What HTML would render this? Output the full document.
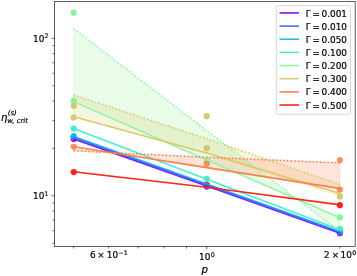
<!DOCTYPE html>
<html><head><meta charset="utf-8"><title>plot</title>
<style>html,body{margin:0;padding:0;background:#fff;overflow:hidden}body{width:357px;height:276px;position:relative}</style></head>
<body>
<svg width="357" height="276" viewBox="0 0 357 276" style="display:block;position:absolute;left:0;top:0">
<rect x="0" y="0" width="357" height="276" fill="#fff"/>
<clipPath id="c"><rect x="54.5" y="1.5" width="300.7" height="245.0"/></clipPath>
<g clip-path="url(#c)">
<circle cx="73.7" cy="138.9" r="3.1" fill="#8000ff" fill-opacity="0.95"/>
<circle cx="206.75" cy="186.6" r="3.1" fill="#8000ff" fill-opacity="0.95"/>
<circle cx="339.9" cy="233.2" r="3.1" fill="#8000ff" fill-opacity="0.95"/>
<circle cx="73.7" cy="137.6" r="3.1" fill="#3a68fa" fill-opacity="0.95"/>
<circle cx="206.75" cy="186.0" r="3.1" fill="#3a68fa" fill-opacity="0.95"/>
<circle cx="339.9" cy="232.4" r="3.1" fill="#3a68fa" fill-opacity="0.95"/>
<circle cx="73.7" cy="136.2" r="3.1" fill="#0cbbe9" fill-opacity="0.95"/>
<circle cx="206.75" cy="185.2" r="3.1" fill="#0cbbe9" fill-opacity="0.95"/>
<circle cx="339.9" cy="231.4" r="3.1" fill="#0cbbe9" fill-opacity="0.95"/>
<circle cx="73.7" cy="128.6" r="3.1" fill="#40ecd0" fill-opacity="0.95"/>
<circle cx="206.75" cy="178.8" r="3.1" fill="#40ecd0" fill-opacity="0.95"/>
<circle cx="339.9" cy="228.8" r="3.1" fill="#40ecd0" fill-opacity="0.95"/>
<circle cx="73.7" cy="12.7" r="3.1" fill="#7cf59a" fill-opacity="0.95"/>
<circle cx="73.7" cy="100.9" r="3.1" fill="#7cf59a" fill-opacity="0.95"/>
<circle cx="206.75" cy="161.0" r="3.1" fill="#7cf59a" fill-opacity="0.95"/>
<circle cx="339.9" cy="217.4" r="3.1" fill="#7cf59a" fill-opacity="0.95"/>
<polygon points="73.7,28.7 206.75,130.6 339.9,231.4 339.9,217.7 206.75,160.1 73.7,101.7" fill="#8cf08c" fill-opacity="0.2" stroke="#8cf08c" stroke-opacity="0.30000000000000004" stroke-width="0.7"/>
<circle cx="73.7" cy="105.9" r="3.1" fill="#d3c664" fill-opacity="0.95"/>
<circle cx="73.7" cy="117.5" r="3.1" fill="#d3c664" fill-opacity="0.95"/>
<circle cx="206.75" cy="116.2" r="3.1" fill="#d3c664" fill-opacity="0.95"/>
<circle cx="206.75" cy="148.2" r="3.1" fill="#d3c664" fill-opacity="0.95"/>
<circle cx="339.9" cy="196.4" r="3.1" fill="#d3c664" fill-opacity="0.95"/>
<polygon points="73.7,95.0 206.75,138.8 339.9,184.6 339.9,196.0 206.75,153.6 73.7,116.8" fill="#d8c862" fill-opacity="0.2" stroke="#d8c862" stroke-opacity="0.30000000000000004" stroke-width="0.7"/>
<circle cx="73.7" cy="146.6" r="3.1" fill="#ff8a58" fill-opacity="0.95"/>
<circle cx="206.75" cy="163.8" r="3.1" fill="#ff8a58" fill-opacity="0.95"/>
<circle cx="339.9" cy="160.0" r="3.1" fill="#ff8a58" fill-opacity="0.95"/>
<circle cx="339.9" cy="189.6" r="3.1" fill="#ff8a58" fill-opacity="0.95"/>
<polygon points="73.7,150.8 206.75,157.3 339.9,162.9 339.9,188.5 206.75,167.6 73.7,146.7" fill="#ff7a45" fill-opacity="0.2" stroke="#ff7a45" stroke-opacity="0.30000000000000004" stroke-width="0.7"/>
<circle cx="73.7" cy="172.1" r="3.1" fill="#ff1a10" fill-opacity="0.95"/>
<circle cx="206.75" cy="184.8" r="3.1" fill="#ff1a10" fill-opacity="0.95"/>
<circle cx="339.9" cy="205.2" r="3.1" fill="#ff1a10" fill-opacity="0.95"/>
<polyline points="73.7,138.9 206.75,186.1 339.9,233.3" fill="none" stroke="#8000ff" stroke-opacity="0.95" stroke-width="1.6" stroke-linecap="square" stroke-linejoin="round"/>
<polyline points="73.7,136.5 206.75,184.1 339.9,231.5" fill="none" stroke="#0cbbe9" stroke-opacity="0.95" stroke-width="1.6" stroke-linecap="square" stroke-linejoin="round"/>
<polyline points="73.7,137.7 206.75,185.1 339.9,232.4" fill="none" stroke="#3a68fa" stroke-opacity="0.95" stroke-width="1.6" stroke-linecap="square" stroke-linejoin="round"/>
<polyline points="73.7,128.6 206.75,179.2 339.9,229.6" fill="none" stroke="#40ecd0" stroke-opacity="0.95" stroke-width="1.6" stroke-linecap="square" stroke-linejoin="round"/>
<polyline points="73.7,101.7 206.75,160.1 339.9,217.7" fill="none" stroke="#8cf7a4" stroke-opacity="0.95" stroke-width="1.6" stroke-linecap="square" stroke-linejoin="round"/>
<polyline points="73.7,28.7 206.75,130.6 339.9,231.4" fill="none" stroke="#8cf7a4" stroke-opacity="0.95" stroke-width="1.6" stroke-dasharray="1.44 2.24"/>
<polyline points="73.7,116.8 206.75,153.0 339.9,193.6" fill="none" stroke="#d8c862" stroke-opacity="0.95" stroke-width="1.6" stroke-linecap="square" stroke-linejoin="round"/>
<polyline points="73.7,95.0 206.75,138.8 339.9,184.6" fill="none" stroke="#d8c862" stroke-opacity="0.95" stroke-width="1.6" stroke-dasharray="1.44 2.24"/>
<polyline points="73.7,146.7 206.75,167.6 339.9,188.5" fill="none" stroke="#ff7a45" stroke-opacity="0.95" stroke-width="1.6" stroke-linecap="square" stroke-linejoin="round"/>
<polyline points="73.7,150.8 206.75,157.3 339.9,162.9" fill="none" stroke="#ff7a45" stroke-opacity="0.95" stroke-width="1.6" stroke-dasharray="1.44 2.24"/>
<polyline points="73.7,171.8 206.75,187.2 339.9,204.8" fill="none" stroke="#ff1a10" stroke-opacity="0.95" stroke-width="1.6" stroke-linecap="square" stroke-linejoin="round"/>
</g>
<rect x="54.5" y="1.5" width="300.7" height="245.0" fill="none" stroke="#404040" stroke-width="0.85"/>
<path d="M54.5 195.80h-2.9 M54.5 38.40h-2.9 M54.5 243.18h-2.0 M54.5 230.72h-2.0 M54.5 220.18h-2.0 M54.5 211.05h-2.0 M54.5 203.00h-2.0 M54.5 148.42h-2.0 M54.5 120.70h-2.0 M54.5 101.04h-2.0 M54.5 85.78h-2.0 M54.5 73.32h-2.0 M54.5 62.78h-2.0 M54.5 53.65h-2.0 M54.5 45.60h-2.0 M206.75 246.5v2.9 M73.60 246.5v2.0 M108.62 246.5v2.0 M138.23 246.5v2.0 M163.89 246.5v2.0 M186.51 246.5v2.0 M339.90 246.5v2.0" stroke="#404040" stroke-width="0.8" fill="none"/>
<text font-family="DejaVu Sans, Liberation Sans, sans-serif" fill="#000" stroke="#000" stroke-width="0.2" ><tspan x="33.0" y="41.80" font-size="8.9">10</tspan><tspan x="44.6" y="38.40" font-size="6.3">2</tspan></text>
<text font-family="DejaVu Sans, Liberation Sans, sans-serif" fill="#000" stroke="#000" stroke-width="0.2" ><tspan x="33.0" y="199.20" font-size="8.9">10</tspan><tspan x="44.6" y="195.80" font-size="6.3">1</tspan></text>
<text font-family="DejaVu Sans, Liberation Sans, sans-serif" fill="#000" stroke="#000" stroke-width="0.2" ><tspan x="199.0" y="259.90" font-size="8.9">10</tspan><tspan x="210.8" y="256.50" font-size="6.3">0</tspan></text>
<text font-family="DejaVu Sans, Liberation Sans, sans-serif" fill="#000" stroke="#000" stroke-width="0.2" ><tspan x="90.0" y="258.10" font-size="8.9">6</tspan><tspan x="97.3" y="258.10" font-size="8.9">×</tspan><tspan x="106.8" y="258.10" font-size="8.9">10</tspan><tspan x="118.4" y="254.70" font-size="6.3">−1</tspan></text>
<text font-family="DejaVu Sans, Liberation Sans, sans-serif" fill="#000" stroke="#000" stroke-width="0.2" ><tspan x="324.1" y="258.10" font-size="8.9">2</tspan><tspan x="331.7" y="258.10" font-size="8.9">×</tspan><tspan x="340.6" y="258.10" font-size="8.9">10</tspan><tspan x="352.2" y="254.70" font-size="6.3">0</tspan></text>
<text x="204.75" y="272.5" font-family="DejaVu Sans, Liberation Sans, sans-serif" font-size="10.2" font-style="italic" text-anchor="middle" fill="#000" stroke="#000" stroke-width="0.2">p</text>
<text x="1.0" y="120.7" font-family="DejaVu Sans, Liberation Sans, sans-serif" font-size="10" font-style="italic" fill="#000" stroke="#000" stroke-width="0.2">η<tspan font-size="6.9" dy="-6" dx="0.4">(s)</tspan></text>
<text x="7.2" y="123.1" font-family="DejaVu Sans, Liberation Sans, sans-serif" font-size="6.85" font-style="italic" fill="#000" stroke="#000" stroke-width="0.2">w, crit</text>
<rect x="276.3" y="5.7" width="74.2" height="108.5" rx="1.6" ry="1.6" fill="#fff" fill-opacity="0.8" stroke="#ccc" stroke-width="0.8"/>
<line x1="279.5" y1="12.95" x2="299.0" y2="12.95" stroke="#8000ff" stroke-opacity="0.95" stroke-width="1.6"/>
<text font-family="DejaVu Sans, Liberation Sans, sans-serif" fill="#000" stroke="#000" stroke-width="0.2" ><tspan x="305.8" y="16.55" font-size="8.9">Γ</tspan><tspan x="312.6" y="16.55" font-size="8.9">=</tspan><tspan x="321.6" y="16.55" font-size="8.9">0.001</tspan></text>
<line x1="279.5" y1="26.10" x2="299.0" y2="26.10" stroke="#3a68fa" stroke-opacity="0.95" stroke-width="1.6"/>
<text font-family="DejaVu Sans, Liberation Sans, sans-serif" fill="#000" stroke="#000" stroke-width="0.2" ><tspan x="305.8" y="29.70" font-size="8.9">Γ</tspan><tspan x="312.6" y="29.70" font-size="8.9">=</tspan><tspan x="321.6" y="29.70" font-size="8.9">0.010</tspan></text>
<line x1="279.5" y1="39.25" x2="299.0" y2="39.25" stroke="#0cbbe9" stroke-opacity="0.95" stroke-width="1.6"/>
<text font-family="DejaVu Sans, Liberation Sans, sans-serif" fill="#000" stroke="#000" stroke-width="0.2" ><tspan x="305.8" y="42.85" font-size="8.9">Γ</tspan><tspan x="312.6" y="42.85" font-size="8.9">=</tspan><tspan x="321.6" y="42.85" font-size="8.9">0.050</tspan></text>
<line x1="279.5" y1="52.40" x2="299.0" y2="52.40" stroke="#40ecd0" stroke-opacity="0.95" stroke-width="1.6"/>
<text font-family="DejaVu Sans, Liberation Sans, sans-serif" fill="#000" stroke="#000" stroke-width="0.2" ><tspan x="305.8" y="56.00" font-size="8.9">Γ</tspan><tspan x="312.6" y="56.00" font-size="8.9">=</tspan><tspan x="321.6" y="56.00" font-size="8.9">0.100</tspan></text>
<line x1="279.5" y1="65.55" x2="299.0" y2="65.55" stroke="#8cf7a4" stroke-opacity="0.95" stroke-width="1.6"/>
<text font-family="DejaVu Sans, Liberation Sans, sans-serif" fill="#000" stroke="#000" stroke-width="0.2" ><tspan x="305.8" y="69.15" font-size="8.9">Γ</tspan><tspan x="312.6" y="69.15" font-size="8.9">=</tspan><tspan x="321.6" y="69.15" font-size="8.9">0.200</tspan></text>
<line x1="279.5" y1="78.70" x2="299.0" y2="78.70" stroke="#d8c862" stroke-opacity="0.95" stroke-width="1.6"/>
<text font-family="DejaVu Sans, Liberation Sans, sans-serif" fill="#000" stroke="#000" stroke-width="0.2" ><tspan x="305.8" y="82.30" font-size="8.9">Γ</tspan><tspan x="312.6" y="82.30" font-size="8.9">=</tspan><tspan x="321.6" y="82.30" font-size="8.9">0.300</tspan></text>
<line x1="279.5" y1="91.85" x2="299.0" y2="91.85" stroke="#ff7a45" stroke-opacity="0.95" stroke-width="1.6"/>
<text font-family="DejaVu Sans, Liberation Sans, sans-serif" fill="#000" stroke="#000" stroke-width="0.2" ><tspan x="305.8" y="95.45" font-size="8.9">Γ</tspan><tspan x="312.6" y="95.45" font-size="8.9">=</tspan><tspan x="321.6" y="95.45" font-size="8.9">0.400</tspan></text>
<line x1="279.5" y1="105.00" x2="299.0" y2="105.00" stroke="#ff1a10" stroke-opacity="0.95" stroke-width="1.6"/>
<text font-family="DejaVu Sans, Liberation Sans, sans-serif" fill="#000" stroke="#000" stroke-width="0.2" ><tspan x="305.8" y="108.60" font-size="8.9">Γ</tspan><tspan x="312.6" y="108.60" font-size="8.9">=</tspan><tspan x="321.6" y="108.60" font-size="8.9">0.500</tspan></text>
</svg>
</body></html>
